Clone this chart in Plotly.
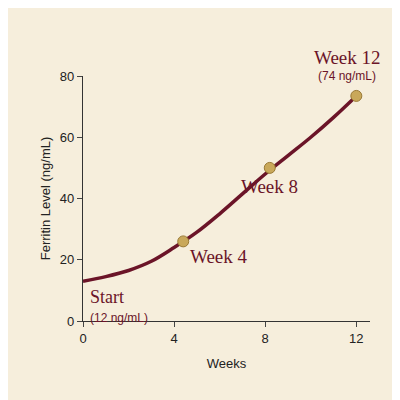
import plotly.graph_objects as go

curve_x = [0, 1, 2, 3, 4, 5, 6, 7, 8, 9, 10, 11, 12]
curve_y = [13, 14.5, 16.5, 19.5, 24, 29, 35, 41.5, 48, 54, 60, 66.5, 73.5]
mark_x = [4.4, 8.2, 12]
mark_y = [26, 50, 73.5]
x_ticks = [0, 4, 8, 12]
y_ticks = [0, 20, 40, 60, 80]

maroon = "#6b1428"
serif = "Liberation Serif"
XMAX, YMAX = 12.6, 80

fig = go.Figure()
fig.add_trace(go.Scatter(x=curve_x, y=curve_y, mode="lines",
                         line=dict(color=maroon, width=3.5, shape="spline"),
                         hoverinfo="skip", cliponaxis=False))
fig.add_trace(go.Scatter(x=mark_x, y=mark_y, mode="markers",
                         marker=dict(size=11, color="#c9a85a",
                                     line=dict(color="#9a7a36", width=1)),
                         cliponaxis=False))

ann = [
    (0.2, 8, "Start", 18, serif, "left"),
    (0.2, 1, "(12 ng/mL)", 12, "Liberation Sans", "left"),
    (4.6, 21, "Week 4", 19, serif, "left"),
    (8.2, 44, "Week 8", 19, serif, "center"),
    (11.6, 86, "Week 12", 19, serif, "center"),
    (11.6, 80, "(74 ng/mL)", 12, "Liberation Sans", "center"),
]
for x, y, t, s, f, xa in ann:
    fig.add_annotation(x=x / XMAX, y=y / YMAX, xref="paper", yref="paper",
                       text=t, showarrow=False, xanchor=xa, yanchor="middle",
                       font=dict(size=s, family=f, color=maroon))

fig.update_layout(
    width=400, height=400, showlegend=False,
    paper_bgcolor="#f6eedc", plot_bgcolor="#f6eedc",
    margin=dict(l=75, r=38, t=68, b=87),
    font=dict(family="Liberation Sans", color="#222", size=13),
    xaxis=dict(range=[0, XMAX], tickvals=x_ticks, showgrid=False, zeroline=False,
               automargin=False, showline=True, linecolor="#333", linewidth=1.2,
               ticks="outside", ticklen=5, tickfont=dict(size=13),
               title=dict(text="Weeks", standoff=14, font=dict(size=13))),
    yaxis=dict(range=[0, YMAX], tickvals=y_ticks, showgrid=False, zeroline=False,
               automargin=False, showline=True, linecolor="#333", linewidth=1.2,
               ticks="outside", ticklen=5, tickfont=dict(size=13),
               title=dict(text="Ferritin Level (ng/mL)", standoff=6, font=dict(size=13))),
)
fig.write_html("out.html")
